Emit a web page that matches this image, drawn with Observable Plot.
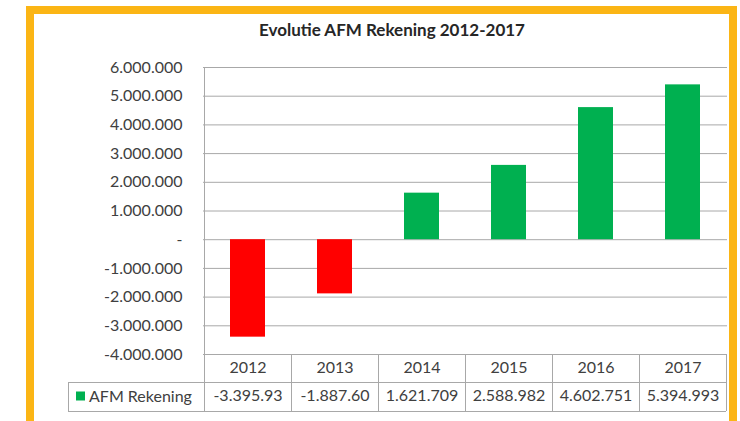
<!DOCTYPE html>
<html>
<head>
<meta charset="utf-8">
<script src="https://cdn.jsdelivr.net/npm/d3@7"></script>
<script src="https://cdn.jsdelivr.net/npm/@observablehq/plot@0.6"></script>
<style>
  body { margin: 0; background: #ffffff; font-family: Lato, "Open Sans", sans-serif; }
  #frame { position: absolute; left: 26px; top: 6px; width: 695px; height: 430px;
           border: 8px solid #FBB515; background: #ffffff; overflow: hidden; }
  #title { height: 32px; line-height: 32px; padding-left: 21px; text-align: center;
           font-weight: bold; font-size: 17px; color: #262626; }
  #chart svg { display: block; }
</style>
</head>
<body>
<div id="frame">
  <div id="title">Evolutie AFM Rekening 2012-2017</div>
  <div id="chart"></div>
</div>
<script>
// ---- data ----
const years = ["2012", "2013", "2014", "2015", "2016", "2017"];
const values = [-3395930, -1887600, 1621709, 2588982, 4602751, 5394993];
const valueLabels = ["-3.395.93", "-1.887.60", "1.621.709", "2.588.982", "4.602.751", "5.394.993"];
const yTicks = [6000000, 5000000, 4000000, 3000000, 2000000, 1000000, 0, -1000000, -2000000, -3000000, -4000000];
const seriesName = "AFM Rekening";
const positiveColor = "#00B050";
const negativeColor = "#FF0000";

const rows = years.map((y, i) => ({year: y, value: values[i], label: valueLabels[i]}));

const fmtY = d => d === 0 ? "-" : d3.format(",")(d).replace(/,/g, ".").replace("\u2212", "-");

const W = 695, H = 375, ML = 169, MR = 2, MT = 21, MB = 67;
const gridColor = "#a8a8a8";
const textColor = "#404040";

const chart = Plot.plot({
  width: W, height: H,
  marginLeft: ML, marginRight: MR, marginTop: MT, marginBottom: MB,
  style: {fontFamily: "Lato, 'Open Sans', sans-serif", fontSize: "16px", color: textColor, background: "transparent", overflow: "visible"},
  x: {domain: years, paddingInner: 0.6, paddingOuter: 0.3, axis: null},
  y: {domain: [-4000000, 6000000], ticks: yTicks, tickFormat: fmtY, tickSize: 0, tickPadding: 21, label: null},
  color: {type: "identity"},
  marks: [
    Plot.ruleY(yTicks, {stroke: gridColor, strokeWidth: 1}),
    Plot.barY(rows, {x: "year", y: "value", fill: d => d.value < 0 ? negativeColor : positiveColor}),
    Plot.text(rows, {x: "year", text: "year", frameAnchor: "bottom", lineAnchor: "middle", dy: 13, fill: textColor}),
    Plot.text(rows, {x: "year", text: "label", frameAnchor: "bottom", lineAnchor: "middle", dy: 41, fill: textColor})
  ]
});
document.getElementById("chart").appendChild(chart);

// ---- data table grid & legend cell, positioned from Plot's own x scale ----
const sx = Plot.scale({x: chart.scale("x")});
const step = chart.scale("x").step;
const bw = chart.scale("x").bandwidth;
const centers = years.map(y => sx.apply(y) + bw / 2);
const bounds = centers.map(c => c - step / 2).concat([centers[centers.length - 1] + step / 2]);
const plotTop = MT, plotBottom = H - MB, row1 = plotBottom + 28, row2 = plotBottom + 57;
const tableLeft = 34;
const g = d3.select(chart).append("g").attr("stroke", gridColor).attr("stroke-width", 1).attr("shape-rendering", "crispEdges");
// y axis line
g.append("line").attr("x1", bounds[0]).attr("x2", bounds[0]).attr("y1", plotTop).attr("y2", row2);
// column separators
bounds.slice(1).forEach(b => g.append("line").attr("x1", b).attr("x2", b).attr("y1", plotBottom).attr("y2", row2));
// row lines
[row1, row2].forEach(r => g.append("line").attr("x1", tableLeft).attr("x2", bounds[bounds.length - 1]).attr("y1", r).attr("y2", r));
g.append("line").attr("x1", tableLeft).attr("x2", tableLeft).attr("y1", row1).attr("y2", row2);
// legend key
const lg = d3.select(chart).append("g").attr("text-anchor", "start");
lg.append("rect").attr("x", tableLeft + 8).attr("y", (row1 + row2) / 2 - 5).attr("width", 9).attr("height", 9).attr("fill", positiveColor);
lg.append("text").attr("x", tableLeft + 21).attr("y", (row1 + row2) / 2).attr("dy", "0.32em")
  .attr("text-anchor", "start").attr("fill", textColor).attr("font-size", 16).text(seriesName);
</script>
</body>
</html>
